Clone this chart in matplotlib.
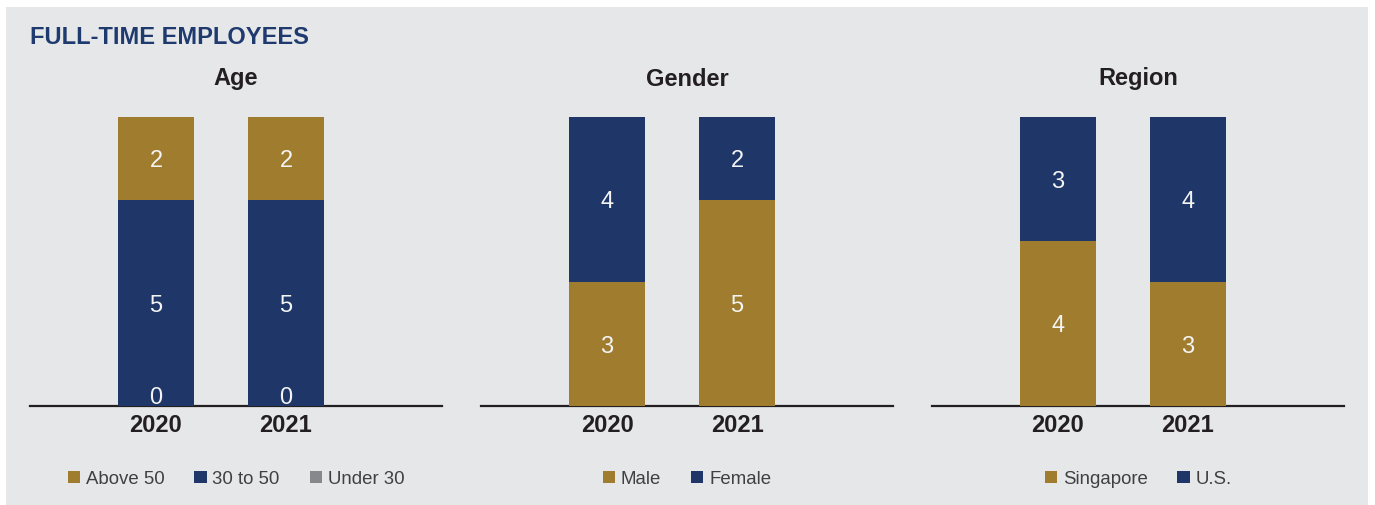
import numpy as np
import matplotlib.pyplot as plt
from matplotlib.patches import Rectangle

plt.rcParams['font.family'] = ['Liberation Sans', 'DejaVu Sans']

years = ['2020', '2021']

age_labels = ['Under 30', '30 to 50', 'Above 50']
age_vals = [[0, 0], [5, 5], [2, 2]]

gender_labels = ['Male', 'Female']
gender_vals = [[3, 5], [4, 2]]

region_labels = ['Singapore', 'U.S.']
region_vals = [[4, 3], [3, 4]]

gold = '#a07c2e'
navy = '#1e3668'
grey = '#87888c'
bg = '#e6e7e9'

panels = [
    ('Age', age_labels, age_vals, [grey, navy, gold], ['Above 50', '30 to 50', 'Under 30']),
    ('Gender', gender_labels, gender_vals, [gold, navy], ['Male', 'Female']),
    ('Region', region_labels, region_vals, [gold, navy], ['Singapore', 'U.S.']),
]

W, H = 1375, 505
fig = plt.figure(figsize=(W / 100, H / 100), dpi=100)
fig.patch.set_facecolor('white')
fig.patches.append(Rectangle((6 / W, 0), 1362 / W, 1 - 7 / H, transform=fig.transFigure,
                             facecolor=bg, edgecolor='none', zorder=-10))

fig.text(30 / W, 1 - 38 / H, 'FULL-TIME EMPLOYEES', color='#1f3a6e', fontsize=17,
         fontweight='bold', va='center', ha='left')

x = np.arange(len(years))
left_px = [30, 481, 932]
for i, (title, labels, vals, colors, order) in enumerate(panels):
    ax = fig.add_axes([left_px[i] / W, 1 - 406 / H, 412 / W, 289 / H])
    ax.set_facecolor('none')
    bottom = np.zeros(len(years))
    handles = {}
    for lab, v, c in zip(labels, vals, colors):
        v = np.array(v, dtype=float)
        bars = ax.bar(x, v, 0.585, bottom=bottom, color=c, label=lab, zorder=2)
        handles[lab] = bars
        for xi, vi, bi in zip(x, v, bottom):
            if vi == 0:
                ax.annotate('%d' % vi, (xi, bi), xytext=(0, -2), textcoords='offset points',
                            ha='center', va='bottom', color='#f4f4f4', fontsize=17, zorder=3)
            else:
                ax.annotate('%d' % vi, (xi, bi + vi / 2), xytext=(0, -2),
                            textcoords='offset points', ha='center', va='center',
                            color='#f4f4f4', fontsize=17, zorder=3)
        bottom = bottom + v
    ax.set_ylim(0, 7)
    ax.set_xlim(-126 / 130, 1 + 156 / 130)
    ax.set_xticks(x)
    ax.set_xticklabels(years, fontsize=17, fontweight='bold', color='#231f20')
    ax.tick_params(axis='x', length=0, pad=6)
    ax.set_yticks([])
    for s in ['top', 'left', 'right']:
        ax.spines[s].set_visible(False)
    ax.spines['bottom'].set_color('#231f20')
    ax.spines['bottom'].set_linewidth(1.6)
    ax.spines['bottom'].set_zorder(1)
    ax.text(0.5, 1 + 38 / 289, title, transform=ax.transAxes, ha='center', va='center',
            fontsize=17, fontweight='bold', color='#231f20')
    ax.legend([handles[o] for o in order], order, loc='center', bbox_to_anchor=(0.5, -0.253),
              ncol=len(order), frameon=False, fontsize=13.4, handlelength=0.67,
              handleheight=0.67, handletextpad=0.3, columnspacing=1.6, labelcolor='#404041')

fig.savefig('out.png', dpi=100, facecolor=fig.get_facecolor())
